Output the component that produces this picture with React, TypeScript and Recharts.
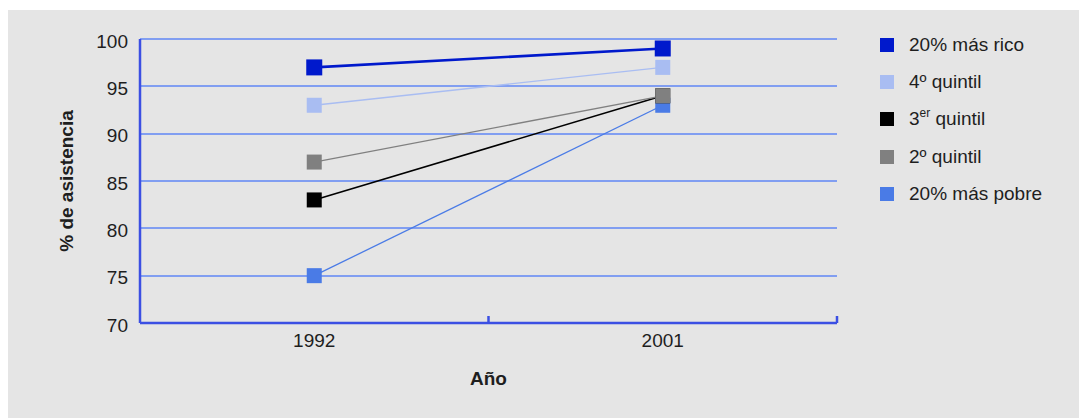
import React from "react";
import { LineChart, Line, XAxis, YAxis, CartesianGrid } from "recharts";

// Asistencia escolar por quintil de ingreso, 1992 y 2001
const years = ["1992", "2001"];
const rico = [97, 99];
const cuarto = [93, 97];
const tercero = [83, 94];
const segundo = [87, 94];
const pobre = [75, 93];
const yTicks = [70, 75, 80, 85, 90, 95, 100];

const data = years.map((year, i) => ({
  year,
  rico: rico[i],
  cuarto: cuarto[i],
  tercero: tercero[i],
  segundo: segundo[i],
  pobre: pobre[i],
}));

const FONT = "'Liberation Sans', Arial, sans-serif";
const FONT_SIZE = 19;
const TEXT = "#1e1e1e";
const AXIS = "#3b4fe3";
const GRID = "#819ef1";

type SeriesDef = {
  key: string;
  color: string;
  width: number;
  marker: number;
};

// Drawn from bottom to top: the poorest quintile first, the richest last
const series: SeriesDef[] = [
  { key: "pobre", color: "#4a7be6", width: 1.3, marker: 15 },
  { key: "tercero", color: "#000000", width: 1.6, marker: 15 },
  { key: "segundo", color: "#808080", width: 1.3, marker: 15 },
  { key: "cuarto", color: "#a9bdf2", width: 1.3, marker: 15 },
  { key: "rico", color: "#0019cc", width: 2.6, marker: 16 },
];

const legendOrder = ["rico", "cuarto", "tercero", "segundo", "pobre"];
const legendText: Record<string, React.ReactNode> = {
  rico: "20% más rico",
  cuarto: "4º quintil",
  tercero: (
    <>
      3<sup style={{ fontSize: 12, verticalAlign: "top", lineHeight: "12px", position: "relative", top: -1 }}>er</sup> quintil
    </>
  ),
  segundo: "2º quintil",
  pobre: "20% más pobre",
};

const squareDot = (color: string, size: number) => (props: any) => {
  const { cx, cy, index } = props;
  if (cx == null || cy == null) return <g key={`d-${index}`} />;
  return (
    <rect
      key={`d-${index}`}
      x={cx - size / 2}
      y={cy - size / 2}
      width={size}
      height={size}
      fill={color}
    />
  );
};

const TICK_SIZE = 6;
const TICK_MARGIN = 5;

// Year labels centred in each band, plus a short inward tick at the band's right edge
const YearTick = (props: any) => {
  const { x, y, payload, width, visibleTicksCount } = props;
  const half = width / visibleTicksCount / 2;
  const axisY = y - TICK_SIZE - TICK_MARGIN;
  return (
    <g>
      <line x1={x + half} x2={x + half} y1={axisY} y2={axisY - 7} stroke={AXIS} strokeWidth={2.5} />
      <text x={x} y={y} dy="0.71em" textAnchor="middle" fill={TEXT} fontSize={FONT_SIZE} fontFamily={FONT}>
        {payload.value}
      </text>
    </g>
  );
};

const LegendBox = () => {
  const colorOf = Object.fromEntries(series.map((s) => [s.key, s.color]));
  return (
    <div
      style={{
        position: "absolute",
        left: 872,
        top: 16,
        fontFamily: FONT,
        fontSize: FONT_SIZE,
        color: TEXT,
      }}
    >
      {legendOrder.map((k) => (
        <div key={k} style={{ display: "flex", alignItems: "center", height: 37.4 }}>
          <span
            style={{
              display: "inline-block",
              width: 14,
              height: 14,
              background: colorOf[k],
              marginRight: 15,
            }}
          />
          <span style={{ whiteSpace: "nowrap" }}>{legendText[k]}</span>
        </div>
      ))}
    </div>
  );
};

export default function App() {
  return (
    <div
      style={{
        position: "relative",
        marginTop: 2,
        width: 1079,
        height: 408,
        background: "#e5e5e5",
      }}
    >
      <LineChart
        width={1079}
        height={408}
        data={data}
        margin={{ top: 29, right: 250, bottom: 49, left: 52 }}
      >
        <CartesianGrid
          horizontal
          vertical={false}
          stroke={GRID}
          strokeWidth={2}
          shapeRendering="crispEdges"
        />
        <XAxis
          dataKey="year"
          scale="band"
          height={46}
          axisLine={{ stroke: AXIS, strokeWidth: 2.5 }}
          tickLine={false}
          tickSize={TICK_SIZE}
          tickMargin={TICK_MARGIN}
          tick={<YearTick />}
          label={{
            value: "Año",
            position: "bottom",
            offset: 3,
            style: { fontFamily: FONT, fontSize: FONT_SIZE, fontWeight: 700, fill: TEXT },
          }}
        />
        <YAxis
          domain={[70, 100]}
          ticks={yTicks}
          width={80}
          axisLine={{ stroke: AXIS, strokeWidth: 2.5 }}
          tickLine={false}
          tickSize={6}
          tickMargin={6}
          interval={0}
          tick={{ fill: TEXT, fontSize: FONT_SIZE, fontFamily: FONT, dy: 2 }}
          label={{
            value: "% de asistencia",
            angle: -90,
            position: "insideLeft",
            offset: 6,
            style: {
              textAnchor: "middle",
              fontFamily: FONT,
              fontSize: FONT_SIZE,
              fontWeight: 700,
              fill: TEXT,
            },
          }}
        />
        {series.map((s) => (
          <Line
            key={s.key}
            type="linear"
            dataKey={s.key}
            stroke={s.color}
            strokeWidth={s.width}
            dot={squareDot(s.color, s.marker)}
            activeDot={false}
            isAnimationActive={false}
          />
        ))}
      </LineChart>
      <LegendBox />
    </div>
  );
}
